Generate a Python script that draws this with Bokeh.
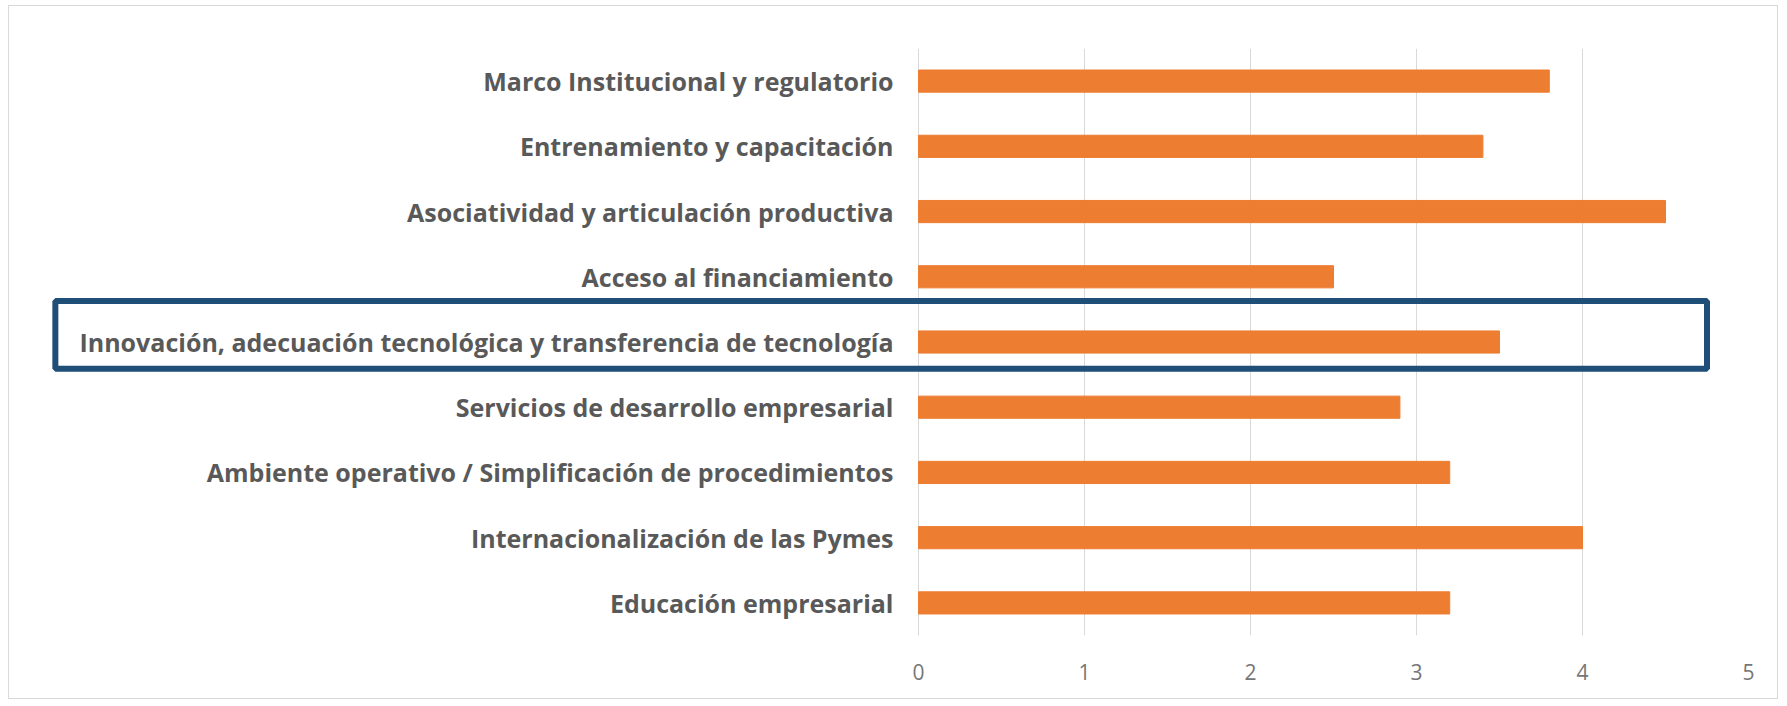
from bokeh.plotting import figure
from bokeh.models import FactorRange, Range1d, BoxAnnotation, FixedTicker
from bokeh.embed import file_html
from bokeh.resources import INLINE

# Categories, top to bottom as shown
categories = [
    "Marco Institucional y regulatorio",
    "Entrenamiento y capacitación",
    "Asociatividad y articulación productiva",
    "Acceso al financiamiento",
    "Innovación, adecuación tecnológica y transferencia de tecnología",
    "Servicios de desarrollo empresarial",
    "Ambiente operativo / Simplificación de procedimientos",
    "Internacionalización de las Pymes",
    "Educación empresarial",
]
values = [3.8, 3.4, 4.5, 2.5, 3.5, 2.9, 3.2, 4.0, 3.2]
x_ticks = [0, 1, 2, 3, 4, 5]
highlight = "Innovación, adecuación tecnológica y transferencia de tecnología"

factors = list(reversed(categories))

# frame spans the full width so the highlight box can reach into the label area
p = figure(
    width=1770, height=694,
    y_range=FactorRange(factors=factors, range_padding=0),
    x_range=Range1d(-5.404, 5),
    output_backend="svg", toolbar_location=None,
    min_border_left=12, min_border_right=31,
    min_border_top=42, min_border_bottom=65,
)
p.styles = {"border": "1px solid #d9d9d9", "margin-left": "8px", "margin-top": "5px"}
p.outline_line_color = None
p.background_fill_color = "white"
p.border_fill_color = "white"

p.hbar(y=categories, right=values, left=0, height=0.34, color="#ED7D31")

# y axis (labels pulled into the frame, right-aligned before x = 0)
p.yaxis.axis_line_color = None
p.yaxis.major_tick_line_color = None
p.yaxis.minor_tick_line_color = None
p.yaxis.major_label_text_font = "Open Sans"
p.yaxis.major_label_text_font_style = "bold"
p.yaxis.major_label_text_font_size = "25px"
p.yaxis.major_label_text_color = "#595959"
p.yaxis.major_label_standoff = -878

# x axis
p.xaxis.ticker = FixedTicker(ticks=x_ticks)
p.xaxis.axis_line_color = None
p.xaxis.major_tick_line_color = None
p.xaxis.minor_tick_line_color = None
p.xaxis.major_label_text_font = "Open Sans"
p.xaxis.major_label_text_font_size = "21px"
p.xaxis.major_label_text_color = "#767676"
p.xaxis.major_label_standoff = 22

p.xgrid.grid_line_color = "#d9d9d9"
p.xgrid.ticker = FixedTicker(ticks=x_ticks)
p.ygrid.grid_line_color = None

idx = factors.index(highlight)
box = BoxAnnotation(
    left=-5.2, right=4.75,
    bottom=idx + 0.09, top=idx + 1.13,
    fill_alpha=0, fill_color=None,
    line_color="#1F4E79", line_width=6, line_alpha=1,
    level="overlay",
)
p.add_layout(box)

open("out.html", "w").write(file_html(p, INLINE))
